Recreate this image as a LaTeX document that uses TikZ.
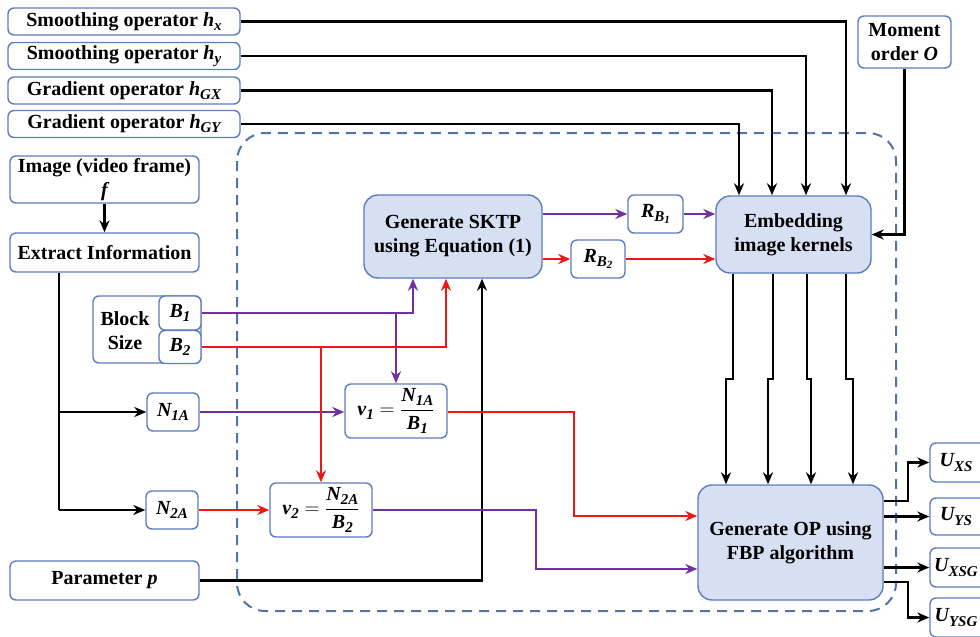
\documentclass[tikz,border=0pt]{standalone}
\usepackage{fontspec}
\setmainfont{Liberation Serif}
\usetikzlibrary{arrows.meta,calc}
\definecolor{bcol}{RGB}{92,125,190}
\definecolor{fcol}{RGB}{214,224,242}
\definecolor{pcol}{RGB}{112,48,160}
\definecolor{rcol}{RGB}{238,22,22}
\definecolor{dcol}{RGB}{80,115,170}
\newcommand{\bi}[1]{{\bfseries\itshape #1}}
\newcommand{\sbs}[1]{\raisebox{-0.45ex}{\fontsize{15}{15}\selectfont\bfseries\itshape #1}}
\newcommand{\ssbs}[1]{\raisebox{-0.4ex}{\fontsize{11}{11}\selectfont\bfseries #1}}
\begin{document}
\begin{tikzpicture}[x=1pt,y=-1pt,
  font=\fontsize{20}{24}\selectfont\bfseries,
  box/.style={draw=bcol, line width=1.4pt, rounded corners=6pt, fill=white, align=center, inner sep=0pt},
  bigbox/.style={box, fill=fcol, rounded corners=14pt},
  wire/.style={line width=2.3pt},
  conn/.style={wire, -{Stealth[length=12pt,width=10pt]}},
  container/.style={draw=dcol, line width=2pt, dash pattern=on 10pt off 7pt, rounded corners=28pt}]
\fill[white] (0,0) rectangle (980,637);
\useasboundingbox (0,0) rectangle (980,637);
% dashed container
\draw[container] (237,133) rectangle (896,611);
% input boxes
\node[box, minimum width=232, minimum height=27] (hx) at (124,21.5) {Smoothing operator \bi{h}\sbs{x}};
\node[box, minimum width=232, minimum height=27] (hy) at (124,56) {Smoothing operator \bi{h}\sbs{y}};
\node[box, minimum width=232, minimum height=27] (hgx) at (124,90.5) {Gradient operator \bi{h}\sbs{GX}};
\node[box, minimum width=232, minimum height=27] (hgy) at (124,124) {Gradient operator \bi{h}\sbs{GY}};
\node[box, minimum width=93, minimum height=52] (mom) at (904.5,42) {Moment\\order \bi{O}};
\node[box, minimum width=189, minimum height=47] (img) at (104.5,179.5) {Image (video frame)\\\bi{f}};
\node[box, minimum width=189, minimum height=39] (ext) at (104.5,252.5) {Extract Information};
\node[box, minimum width=108, minimum height=67] (blk) at (147,329.5) {};
\node[align=center, inner sep=0pt] (bs) at (125,331) {Block\\Size};
\node[box, minimum width=42, minimum height=34] (b1) at (180,313) {\bi{B}\sbs{1}};
\node[box, minimum width=42, minimum height=33] (b2) at (180,347) {\bi{B}\sbs{2}};
\node[box, minimum width=52, minimum height=38] (n1a) at (173,412) {\bi{N}\sbs{1A}};
\node[box, minimum width=52, minimum height=38] (n2a) at (172,510) {\bi{N}\sbs{2A}};
\node[box, minimum width=189, minimum height=39] (par) at (104.5,580.5) {Parameter \bi{p}};
% process boxes
\node[bigbox, minimum width=178, minimum height=83] (sktp) at (453,236.5) {Generate SKTP\\using Equation (1)};
\node[box, minimum width=55, minimum height=38] (rb1) at (655.5,214) {\bi{R}\sbs{B\ssbs{1}}};
\node[box, minimum width=54, minimum height=38] (rb2) at (598,259) {\bi{R}\sbs{B\ssbs{2}}};
\node[bigbox, minimum width=155, minimum height=77] (emb) at (793.5,234.5) {Embedding\\image kernels};
\node[box, minimum width=102, minimum height=54] (v1) at (396,411) {$\hbox{\bi{v}\sbs{1}} = {\displaystyle\frac{\hbox{\bi{N}\sbs{1A}}}{\hbox{\bi{B}\sbs{1}}}}$};
\node[box, minimum width=102, minimum height=54] (v2) at (321,510) {$\hbox{\bi{v}\sbs{2}} = {\displaystyle\frac{\hbox{\bi{N}\sbs{2A}}}{\hbox{\bi{B}\sbs{2}}}}$};
\node[bigbox, minimum width=185, minimum height=115] (op) at (790.5,542.5) {Generate OP using\\FBP algorithm};
% outputs
\node[box, minimum width=60, minimum height=39] (uxs) at (960,462.5) {\hspace{-8pt}\bi{U}\sbs{XS}};
\node[box, minimum width=60, minimum height=37] (uys) at (960,516.5) {\hspace{-8pt}\bi{U}\sbs{YS}};
\node[box, minimum width=60, minimum height=39] (uxsg) at (960,567.5) {\hspace{-8pt}\bi{U}\sbs{XSG}};
\node[box, minimum width=60, minimum height=39] (uysg) at (960,617.5) {\hspace{-8pt}\bi{U}\sbs{YSG}};
% operators to embedding
\draw[conn] (hx.east) -| ($(emb.north)+(52.5,0)$);
\draw[conn] (hy.east) -| ($(emb.north)+(12.5,0)$);
\draw[conn] (hgx.east) -| ($(emb.north)+(-21.5,0)$);
\draw[conn] (hgy.east) -| ($(emb.north)+(-54.5,0)$);
\draw[conn] (mom.south) |- (emb.east);
% image chain
\draw[conn] (img.south) -- (ext.north);
\coordinate (ex) at ($(ext.south)+(-45.5,0)$);
\draw[wire] (ex) -- (ex |- n2a.west);
\draw[conn] (ex |- n2a.west) -- (n2a.west);
\draw[conn] (ex |- n1a.west) -- (n1a.west);
\draw[conn, pcol] (n1a.east) -- (v1.west |- n1a.east);
\draw[conn, rcol] (n2a.east) -- (v2.west);
% block size
\draw[conn, pcol] (b1.east) -| ($(sktp.south)+(-40,0)$);
\draw[conn, pcol] (b1.east -| v1.north) -- (v1.north);
\draw[conn, rcol] (b2.east) -| ($(sktp.south)+(-7,0)$);
\draw[conn, rcol] (b2.east -| v2.north) -- (v2.north);
\draw[conn] (par.east) -| ($(sktp.south)+(29,0)$);
% SKTP outputs
\draw[conn, pcol] (sktp.east |- rb1.west) -- (rb1.west);
\draw[conn, pcol] (rb1.east) -- (emb.west |- rb1.east);
\draw[conn, rcol] (sktp.east |- rb2.west) -- (rb2.west);
\draw[conn, rcol] (rb2.east) -- (emb.west |- rb2.east);
% v to OP
\draw[conn, rcol] (v1.east |- n1a.east) -- ++(126,0) |- ($(op.west)+(0,-26.5)$);
\draw[conn, pcol] (v2.east) -- ++(163,0) |- ($(op.west)+(0,26.5)$);
% embedding to OP
\draw[conn] ($(emb.south)+(-60.5,0)$) -- ++(0,105) -| ($(op.north)+(-64.5,0)$);
\draw[conn] ($(emb.south)+(-20.5,0)$) -- ++(0,105) -| ($(op.north)+(-22.5,0)$);
\draw[conn] ($(emb.south)+(13.5,0)$) -- ++(0,105) -| ($(op.north)+(20.5,0)$);
\draw[conn] ($(emb.south)+(52.5,0)$) -- ++(0,105) -| ($(op.north)+(62.5,0)$);
% OP outputs
\draw[conn] ($(op.east)+(0,-41.5)$) -- ++(24,0) |- (uxs.west);
\draw[conn] (op.east |- uys.west) -- (uys.west);
\draw[conn] (op.east |- uxsg.west) -- (uxsg.west);
\draw[conn] ($(op.east)+(0,39.5)$) -- ++(24,0) |- (uysg.west);
\end{tikzpicture}
\end{document}
